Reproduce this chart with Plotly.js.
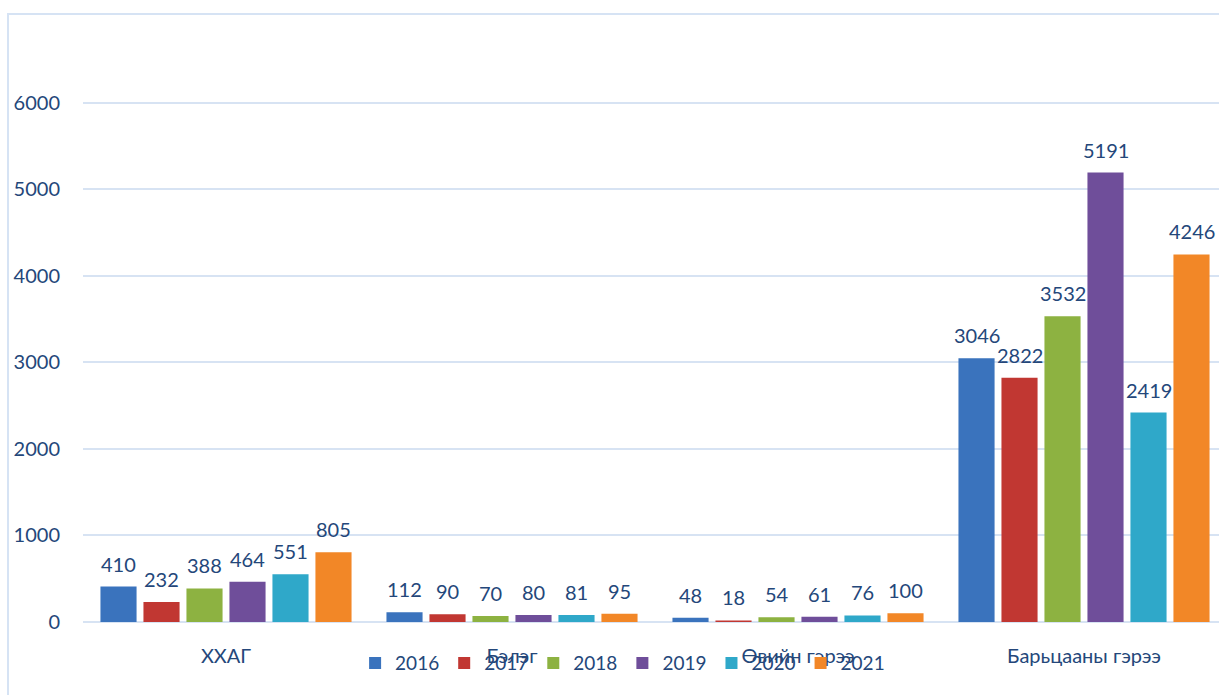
<!DOCTYPE html>
<html><head><meta charset="utf-8">
<script src="https://cdn.plot.ly/plotly-3.0.1.min.js"></script>
<style>html,body{margin:0;padding:0;overflow:hidden;background:#fff}</style>
</head><body><div id="chart" style="width:1219px;height:695px"></div>
<script>
const categories = ["ХХАГ", "Бэлэг", "Өвийн гэрээ", "Барьцааны гэрээ"];
const years = ["2016", "2017", "2018", "2019", "2020", "2021"];
const v2016 = [410, 112, 48, 3046];
const v2017 = [232, 90, 18, 2822];
const v2018 = [388, 70, 54, 3532];
const v2019 = [464, 80, 61, 5191];
const v2020 = [551, 81, 76, 2419];
const v2021 = [805, 95, 100, 4246];
const yTicks = [0, 1000, 2000, 3000, 4000, 5000, 6000];

const series = [v2016, v2017, v2018, v2019, v2020, v2021];
const colors = ["#3A73BD", "#C13732", "#8DB241", "#6F4E9A", "#2FA8C9", "#F28727"];
const txt = "#24477A";
const font = "Lato, 'Open Sans', sans-serif";

const bargap = 0.098, bargroupgap = 0.16;
const slot = (1 - bargap) / series.length;

const traces = series.map((vals, i) => ({
  type: "bar", name: years[i], x: categories, y: vals,
  marker: {color: colors[i]},
  hoverinfo: "x+y+name"
}));

// value labels, placed above each bar via the axis scales
const annotations = [];
series.forEach((vals, i) => {
  vals.forEach((v, j) => {
    annotations.push({
      xref: "x", yref: "y", x: j + (i - (series.length - 1) / 2) * slot, y: v,
      text: String(v), showarrow: false, yanchor: "bottom", xanchor: "center", yshift: 9,
      font: {family: font, size: 20, color: txt}
    });
  });
});

const layout = {
  width: 1219, height: 695,
  margin: {l: 83, r: 0, t: 16, b: 73},
  paper_bgcolor: "#fff", plot_bgcolor: "#fff",
  barmode: "group", bargap: bargap, bargroupgap: bargroupgap,
  font: {family: font, size: 20, color: txt},
  showlegend: true,
  legend: {orientation: "h", x: 0.475, xanchor: "center", y: -0.068, yanchor: "middle",
    font: {family: font, size: 19, color: txt}, bgcolor: "rgba(0,0,0,0)", traceorder: "normal",
    itemwidth: 30},
  xaxis: {type: "category", range: [-0.5, 3.472], showgrid: false, zeroline: false,
    showline: false, ticks: "", ticklabelstandoff: 20,
    tickfont: {family: font, size: 20, color: txt}},
  yaxis: {range: [0, 7000], tickvals: yTicks, ticktext: yTicks.map(String),
    showgrid: true, gridcolor: "#D7E3F3", gridwidth: 2,
    zeroline: true, zerolinecolor: "#D7E3F3", zerolinewidth: 2,
    showline: false, ticks: "", ticklabelstandoff: 22,
    tickfont: {family: font, size: 20, color: txt}},
  annotations: annotations,
  shapes: [{type: "rect", xref: "paper", yref: "paper",
    x0: -0.066, x1: 1.01, y0: -0.2, y1: 1.0033,
    line: {color: "#D6E3F4", width: 2}, fillcolor: "rgba(0,0,0,0)", layer: "below"}]
};

Plotly.newPlot("chart", traces, layout, {displayModeBar: false, staticPlot: true});
</script></body></html>
